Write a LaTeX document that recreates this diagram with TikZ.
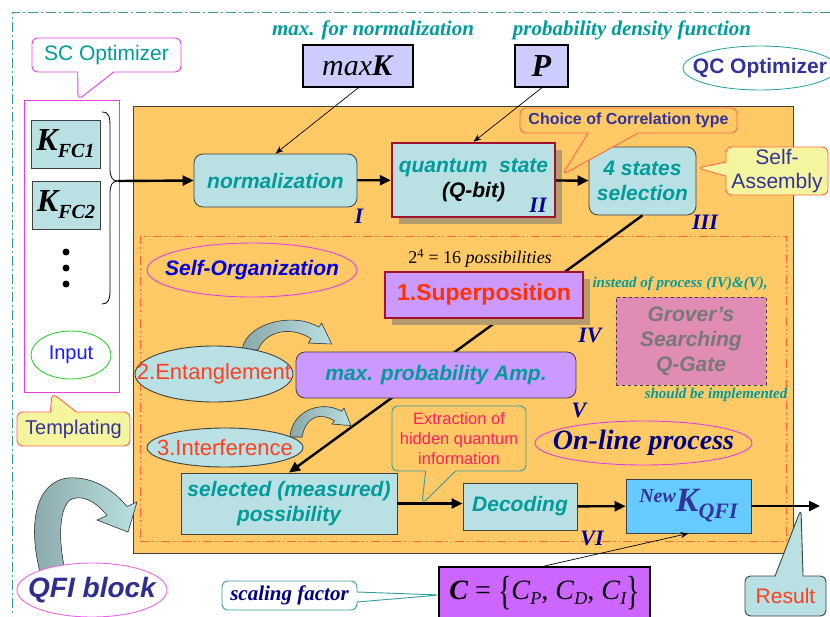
\documentclass[tikz,border=0pt]{standalone}
\usepackage{fontspec}
\setmainfont{Liberation Serif}
\setsansfont{Liberation Sans}
\usetikzlibrary{arrows.meta,shapes.geometric,shapes.callouts,shadows}

\definecolor{edgegray}{RGB}{64,64,64}
\definecolor{tealfill}{RGB}{185,224,226}
\definecolor{tealtext}{RGB}{0,155,155}
\definecolor{coreorange}{RGB}{255,201,102}
\definecolor{dashorange}{RGB}{255,102,51}
\definecolor{boxlavender}{RGB}{204,204,255}
\definecolor{lilac}{RGB}{204,153,255}
\definecolor{cpurple}{RGB}{204,102,255}
\definecolor{groverpink}{RGB}{224,140,180}
\definecolor{grovergray}{RGB}{120,120,120}
\definecolor{skyblue}{RGB}{102,204,255}
\definecolor{noteyellow}{RGB}{245,245,160}
\definecolor{calloutred}{RGB}{255,102,80}
\definecolor{calloutteal}{RGB}{51,160,160}
\definecolor{slateblue}{RGB}{51,51,153}
\definecolor{romanblue}{RGB}{0,0,153}
\definecolor{onlinenavy}{RGB}{0,0,128}
\definecolor{orgblue}{RGB}{0,0,221}
\definecolor{inputblue}{RGB}{26,26,255}
\definecolor{inputgreen}{RGB}{51,204,51}
\definecolor{scmagenta}{RGB}{224,64,224}
\definecolor{qred}{RGB}{160,16,48}
\definecolor{superred}{RGB}{255,51,0}
\definecolor{entred}{RGB}{255,64,32}
\definecolor{extractpink}{RGB}{255,32,96}
\definecolor{qcteal}{RGB}{51,166,166}
\definecolor{qfinavy}{RGB}{46,46,143}
\definecolor{shadowtan}{RGB}{180,155,110}
\definecolor{fatdark}{RGB}{138,168,168}
\definecolor{borderteal}{RGB}{51,153,153}

\begin{document}
\begin{tikzpicture}[
  x=1pt, y=-1pt,
  box/.style = {draw=edgegray, fill=tealfill, line width=0.8pt, inner sep=0pt, align=center,
                text=tealtext, font=\sffamily\bfseries\itshape\fontsize{21}{25}\selectfont},
  rbox/.style = {box, rounded corners=9pt},
  oval/.style = {ellipse, draw, line width=0.9pt, inner sep=0pt},
  bubble/.style = {rectangle callout, rounded corners=6pt, line width=0.9pt, inner sep=0pt, align=center},
  roman/.style = {text=romanblue, font=\bfseries\itshape\fontsize{22}{24}\selectfont},
  remark/.style = {text=tealtext, font=\bfseries\itshape\fontsize{21}{24}\selectfont},
  flow/.style = {line width=2.4pt, -{Triangle[length=11pt,width=10pt]}},
  feed/.style = {line width=0.7pt, -{Stealth[length=8pt,width=6pt]}},
  fatband/.style = {draw=edgegray, line width=0.6pt, left color=fatdark, right color=tealfill},
  castshadow/.style = {drop shadow={shadow xshift=7pt, shadow yshift=-7pt, fill=shadowtan, opacity=1}}
]
\useasboundingbox (0,0) rectangle (830,616);

% whole optimizer frame
\draw[borderteal, line width=1pt, dash pattern=on 10pt off 3pt on 2pt off 3pt] (830,12) -- (12,12) -- (12,616);

% SC side
\node[draw=scmagenta, line width=1pt, fill=white, minimum width=95pt, minimum height=292pt, inner sep=0pt] (scframe) at (71.5,246) {};
\node[bubble, draw=scmagenta, fill=white, text=tealtext, font=\sffamily\fontsize{21}{24}\selectfont,
      minimum width=149pt, minimum height=34pt, callout absolute pointer={(78,100)}, callout pointer width=36pt] (scopt) at (106.5,55) {SC Optimizer};
\node[box, text=black, font=\rmfamily\bfseries\itshape, minimum width=69pt, minimum height=48pt] (kfc1) at (65.5,144)
  {\fontsize{32}{34}\selectfont K\raisebox{-7pt}{\fontsize{20}{22}\selectfont FC1}};
\node[box, text=black, font=\rmfamily\bfseries\itshape, minimum width=68pt, minimum height=48pt] (kfc2) at (66,205)
  {\fontsize{32}{34}\selectfont K\raisebox{-7pt}{\fontsize{20}{22}\selectfont FC2}};
\foreach \n/\y in {1/252,2/268,3/284}
  \node[circle, fill=black, inner sep=0pt, minimum size=7pt] (dot\n) at (66,\y) {};
\draw[line width=0.8pt] (102,112) .. controls (110,112) and (110,118) .. (110,130) -- (110,168)
  .. controls (110,177) and (112,181) .. (118,181) .. controls (112,181) and (110,185) .. (110,194)
  -- (110,290) .. controls (110,300) and (108,304) .. (102,304);
\coordinate (bracetip) at (118,181);
\node[oval, draw=inputgreen, fill=white, minimum width=80pt, minimum height=48pt] (input) at (71,355) {};
\node[text=inputblue, font=\sffamily\fontsize{20}{24}\selectfont] (inputtxt) at (input) {Input};
\node[bubble, draw=calloutred, fill=noteyellow, text=slateblue, font=\sffamily\fontsize{20}{24}\selectfont,
      minimum width=113pt, minimum height=34pt, callout absolute pointer={(52,393)}, callout pointer width=26pt] (templ) at (73.5,429) {Templating};

% QC core
\node[draw=edgegray, fill=coreorange, line width=0.8pt, minimum width=660pt, minimum height=447pt, inner sep=0pt] (core) at (463,329.5) {};
\node[draw=dashorange, line width=0.9pt, dash pattern=on 9pt off 3pt on 1.5pt off 3pt on 1.5pt off 3pt,
      minimum width=646pt, minimum height=305pt, inner sep=0pt] (zone) at (463,388.5) {};

\node[remark] (maxnote) at (373,30) {max. for normalization};
\node[remark] (pnote) at (632,30) {probability density function};
\node[draw=black, line width=2pt, fill=boxlavender, minimum width=110pt, minimum height=42pt, inner sep=0pt,
      font=\fontsize{30}{32}\selectfont] (maxk) at (358,66) {\textit{max}\textbf{\textit{K}}};
\node[draw=black, line width=2pt, fill=boxlavender, minimum width=53pt, minimum height=42pt, inner sep=0pt,
      font=\fontsize{32}{34}\selectfont] (pbox) at (541.5,66) {\textbf{\textit{P}}};
\node[oval, draw=qcteal, minimum width=154pt, minimum height=44pt] (qcopt) at (760,68) {};
\node[text=slateblue, font=\sffamily\bfseries\fontsize{21}{24}\selectfont] (qcopttxt) at (qcopt) {QC Optimizer};

\node[rbox, minimum width=163pt, minimum height=53pt] (norm) at (275.5,180.5) {normalization};
\node[box, draw=qred, line width=2.4pt, castshadow, minimum width=163pt, minimum height=74pt] (qstate) at (473.5,180)
  {quantum\ \ state\\{\color{black}(Q-bit)}};
\node[rbox, minimum width=107pt, minimum height=68pt] (sel4) at (642.5,181) {4 states\\selection};
\node[bubble, draw=calloutred, fill=coreorange, text=slateblue, font=\sffamily\bfseries\fontsize{16}{18}\selectfont,
      minimum width=217pt, minimum height=25pt, callout absolute pointer={(562,175)}, callout pointer width=50pt] (choice) at (628.5,120.5) {Choice of Correlation type};
\node[bubble, draw=calloutred, fill=noteyellow, text=slateblue, font=\sffamily\fontsize{21}{24}\selectfont,
      minimum width=102pt, minimum height=48pt, callout absolute pointer={(697,168)}, callout pointer width=14pt] (selfasm) at (777,171) {Self-\\Assembly};

\node[oval, draw=scmagenta, minimum width=210pt, minimum height=54pt] (selforg) at (252,270) {};
\node[text=orgblue, font=\sffamily\bfseries\itshape\fontsize{21}{24}\selectfont] (selforgtxt) at (selforg) {Self-Organization};

\node[box, minimum width=216pt, minimum height=61pt] (measured) at (289,503.5) {selected (measured)\\possibility};
\draw[flow] (sel4.south) -- (measured.north);

\node[font=\fontsize{18}{20}\selectfont] (possib) at (480,258) {2\textsuperscript{4} = 16 \textit{possibilities}};
\node[box, draw=qred, line width=2.4pt, fill=lilac, castshadow, text=superred, font=\sffamily\bfseries\fontsize{23}{26}\selectfont,
      minimum width=198pt, minimum height=46pt] (superpos) at (484,295) {1.Superposition};
\node[remark, font=\bfseries\itshape\fontsize{15}{17}\selectfont] (instead) at (680,284) {instead of process (IV)\&(V),};
\node[draw=edgegray, dashed, line width=1pt, fill=groverpink, text=grovergray, align=center, inner sep=0pt,
      font=\sffamily\bfseries\itshape\fontsize{21}{25}\selectfont, minimum width=150pt, minimum height=88pt] (grover) at (691,341) {Grover’s\\Searching\\Q-Gate};
\node[remark, font=\bfseries\itshape\fontsize{15}{17}\selectfont] (should) at (716,395) {should be implemented};

% curved block arrows
\filldraw[fatband] (242,350) .. controls (246,322) and (295,312) .. (318.9,327.2) -- (321.6,323) -- (331.6,344)
  -- (308.4,343) -- (311.2,338.8) .. controls (292,326) and (266,330) .. (258,350) -- cycle;
\filldraw[fatband] (290,437) .. controls (292,410) and (322,400) .. (341.6,411.2) -- (344,408) -- (350.8,425.6)
  -- (332,424) -- (334.4,420.8) .. controls (320,412) and (306,416) .. (302,437) -- cycle;

\node[oval, draw=edgegray, fill=tealfill, minimum width=158pt, minimum height=56pt] (entang) at (214,374) {};
\node[text=entred, font=\sffamily\fontsize{22}{24}\selectfont] (entangtxt) at (entang) {2.Entanglement};
\node[oval, draw=edgegray, fill=tealfill, minimum width=156pt, minimum height=39pt] (interf) at (225,447.5) {};
\node[text=entred, font=\sffamily\fontsize{22}{24}\selectfont] (interftxt) at (interf) {3.Interference};
\node[rbox, fill=lilac, minimum width=280pt, minimum height=46pt] (maxamp) at (436,375) {max. probability Amp.};

\node[bubble, draw=calloutteal, fill=coreorange, text=extractpink, font=\sffamily\fontsize{16.5}{20}\selectfont,
      minimum width=134pt, minimum height=65pt, callout absolute pointer={(422,504)}, callout pointer width=30pt] (extract) at (459,438.5)
  {Extraction of\\hidden quantum\\information};
\node[oval, draw=scmagenta, minimum width=217pt, minimum height=44pt] (onlinep) at (643.5,443) {};
\node[text=onlinenavy, font=\bfseries\itshape\fontsize{28}{30}\selectfont] (onlineptxt) at (onlinep) {On-line process};

\node[box, minimum width=114pt, minimum height=47pt] (decode) at (520,506.5) {Decoding};
\node[box, fill=skyblue, text=slateblue, font=\rmfamily\bfseries\itshape, minimum width=125pt, minimum height=54pt] (newk) at (688.5,506)
  {\raisebox{9pt}{\fontsize{20}{22}\selectfont New}\fontsize{34}{36}\selectfont K\raisebox{-7pt}{\fontsize{22}{24}\selectfont QFI}};
\coordinate (outpt) at (820,506);

% connectors
\draw[flow] (bracetip) -- (norm.west);
\draw[flow] (norm) -- (qstate);
\draw[flow] (qstate) -- (sel4);
\draw[flow] (measured.east) -- (measured.east -| decode.west);
\draw[flow] (decode) -- (newk);
\draw[flow] (newk) -- (outpt);
\draw[feed] (maxk.south) -- (norm.north);
\draw[feed] (pbox.south) -- (qstate.north);

% stages
\node[roman] (stI) at (359,216) {I};
\node[roman] (stII) at (538,205) {II};
\node[roman] (stIII) at (705,222) {III};
\node[roman] (stIV) at (590,335) {IV};
\node[roman] (stV) at (579,410) {V};
\node[roman] (stVI) at (592,538) {VI};

% below the core
\node[bubble, draw=calloutteal, fill=white, text=onlinenavy, font=\bfseries\itshape\fontsize{21}{24}\selectfont,
      minimum width=135pt, minimum height=29pt, callout absolute pointer={(440,595)}, callout pointer width=10pt] (scaling) at (289.5,595.5) {scaling factor};
\node[draw=black, line width=2pt, fill=cpurple, minimum width=211pt, minimum height=52pt, inner sep=0pt,
      font=\fontsize{28}{30}\selectfont] (cset) at (544.5,593)
  {\textbf{\textit{C}} = \raisebox{-5pt}{\scalebox{1}[1.45]{\{}}\textit{C}\raisebox{-5pt}{\fontsize{18}{20}\selectfont\itshape P}, \textit{C}\raisebox{-5pt}{\fontsize{18}{20}\selectfont\itshape D}, \textit{C}\raisebox{-5pt}{\fontsize{18}{20}\selectfont\itshape I}\raisebox{-5pt}{\scalebox{1}[1.45]{\}}}};
\draw[feed] (cset.north) -- (newk.south);
\node[bubble, draw=edgegray, fill=tealfill, text=entred, font=\sffamily\fontsize{21}{24}\selectfont,
      minimum width=81pt, minimum height=40pt, callout absolute pointer={(801,509)}, callout pointer width=28pt] (result) at (785.5,596) {Result};

\filldraw[fatband] (40,572) .. controls (28,525) and (35,482) .. (68,478) .. controls (95,476) and (115,492) .. (127,506.5)
  -- (137,502) -- (128,532) -- (97,520) -- (107,515.5) .. controls (95,500) and (80,494) .. (70,500)
  .. controls (60,508) and (58,535) .. (64,566) -- cycle;
\node[oval, draw=scmagenta!80, fill=white, minimum width=150pt, minimum height=54pt] (qfi) at (92,590) {};
\node[text=qfinavy, font=\sffamily\bfseries\itshape\fontsize{28}{30}\selectfont] (qfitxt) at (qfi) {QFI block};
\end{tikzpicture}
\end{document}
